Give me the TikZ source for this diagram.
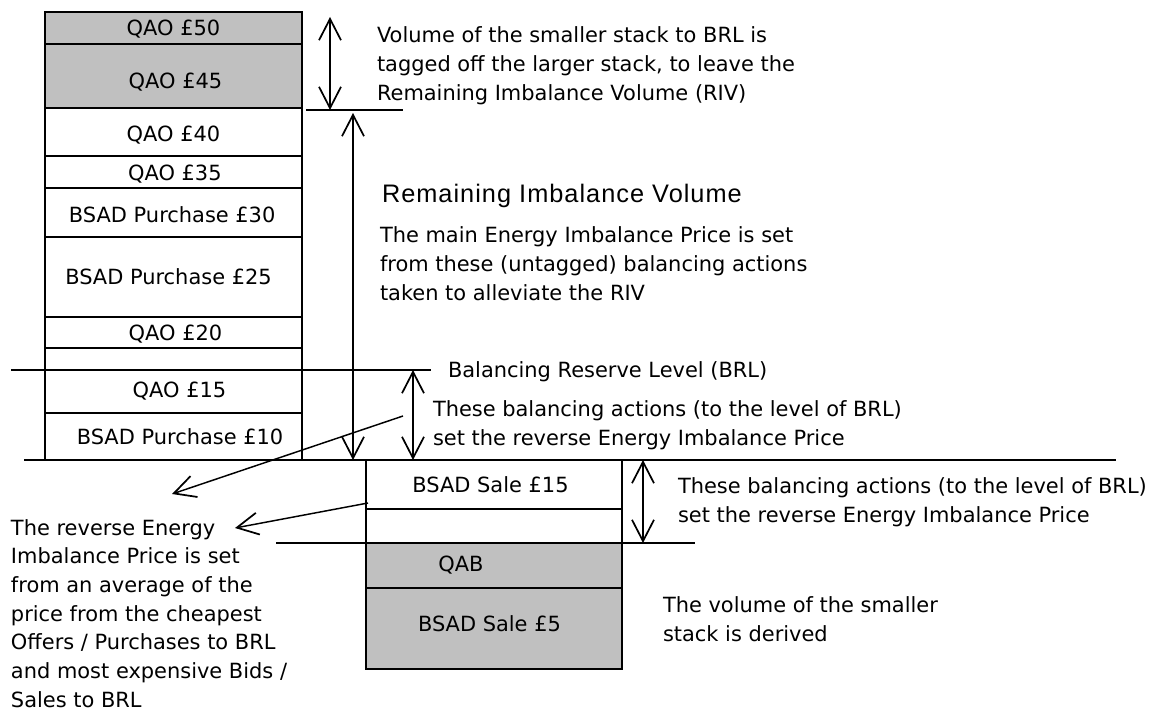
\documentclass[tikz,border=0pt]{standalone}
\usepackage{fontspec}
\setmainfont{DejaVu Sans}
\newfontfamily\titlefont[LetterSpace=4]{Liberation Sans}
\usetikzlibrary{arrows.meta,fit}
\definecolor{shade}{HTML}{C0C0C0}
\begin{document}
\begin{tikzpicture}[x=0.75pt,y=-0.75pt,
  every node/.style={font=\fontsize{15.7}{21.5}\selectfont, inner sep=0pt, outer sep=0pt},
  box/.style={draw, line width=1.4pt, inner sep=0pt},
  greybox/.style={box, fill=shade},
  hline/.style={line width=1.4pt},
  vtip/.tip={Straight Barb[length=16pt,width=16.5pt,line width=1.3pt]},
  dblarrow/.style={line width=1.3pt, arrows={vtip-vtip}},
  diag/.style={line width=1.1pt, arrows={-vtip}},
  txt/.style={anchor=base west, align=left},
  lab/.style={font=\fontsize{15.7}{21.5}\selectfont}]
\useasboundingbox (0,0) rectangle (1152,710);

% left stack
\node[greybox, fit={(45,12)(302,44)}, label={[lab,yshift=-1pt]center:QAO £50}] (q50) {};
\node[greybox, fit={(45,44)(302,108)}, label={[lab,yshift=-4.5pt,xshift=1.5pt]center:QAO £45}] (q45) {};
\node[box, fit={(45,108)(302,156)}, label={[lab,yshift=-2pt]center:QAO £40}] (q40) {};
\node[box, fit={(45,156)(302,188)}, label={[lab,yshift=-1.5pt,xshift=1pt]center:QAO £35}] (q35) {};
\node[box, fit={(45,188)(302,237)}, label={[lab,yshift=-1.5pt,xshift=-1pt]center:BSAD Purchase £30}] (p30) {};
\node[box, fit={(45,237)(302,317)}, label={[lab,xshift=-3.75pt]center:BSAD Purchase £25}] (p25) {};
\node[box, fit={(45,317)(302,348)}, label={[lab,yshift=-1.5pt,xshift=1.5pt]center:QAO £20}] (q20) {};
\node[box, fit={(45,348)(302,370)}] (e1) {};
\node[box, fit={(45,370)(302,413)}, label={[lab,xshift=4.5pt]center:QAO £15}] (q15) {};
\node[box, fit={(45,413)(302,460)}, label={[lab,xshift=4.9pt]center:BSAD Purchase £10}] (p10) {};

% right stack
\node[box, fit={(366,460)(622,509)}, label={[lab,xshift=-2.6pt]center:BSAD Sale £15}] (s15) {};
\node[box, fit={(366,509)(622,543)}] (e2) {};
\node[greybox, fit={(366,543)(622,588)}, label={[lab,xshift=-24.75pt]center:QAB}] (qab) {};
\node[greybox, fit={(366,588)(622,669)}, label={[lab,xshift=-3.4pt,yshift=3.4pt]center:BSAD Sale £5}] (s5) {};

% level lines
\coordinate (brlL) at (11,370);   \coordinate (brlR) at (431,370);
\coordinate (botL) at (24,460);   \coordinate (botR) at (1116,460);
\coordinate (topL) at (306,110);  \coordinate (topR) at (403,110);
\coordinate (lowL) at (276,543);  \coordinate (lowR) at (695,543);
\draw[hline] (brlL) -- (brlR);
\draw[hline] (botL) -- (botR);
\draw[hline] (topL) -- (topR);
\draw[hline] (lowL) -- (lowR);

% vertical double arrows
\coordinate (a1t) at (330,17);  \coordinate (a1b) at (330,110);
\coordinate (a2t) at (353,113); \coordinate (a2b) at (353,460);
\coordinate (a3t) at (413,370); \coordinate (a3b) at (413,460);
\coordinate (a4t) at (643,460); \coordinate (a4b) at (643,543);
\draw[dblarrow] (a1t) -- (a1b);
\draw[dblarrow] (a2t) -- (a2b);
\draw[dblarrow] (a3t) -- (a3b);
\draw[dblarrow] (a4t) -- (a4b);

% texts (anchored at the baseline of their last line)
\node[txt, font=\fontsize{15.7}{21.75}\selectfont] (tag) at (377,100) {Volume of the smaller stack to BRL is\\tagged off the larger stack, to leave the\\Remaining Imbalance Volume (RIV)};
\node[txt, font=\titlefont\fontsize{19}{22}\selectfont] (title) at (382,202) {Remaining Imbalance Volume};
\node[txt] (main) at (380,300) {The main Energy Imbalance Price is set\\from these (untagged) balancing actions\\taken to alleviate the RIV};
\node[txt] (brl) at (448,377) {Balancing Reserve Level (BRL)};
\node[txt] (up) at (433,445) {These balancing actions (to the level of BRL)\\set the reverse Energy Imbalance Price};
\node[txt] (down) at (678,522) {These balancing actions (to the level of BRL)\\set the reverse Energy Imbalance Price};
\node[txt] (derived) at (663,641) {The volume of the smaller\\stack is derived};
\node[txt] (rev) at (11,707) {The reverse Energy\\Imbalance Price is set\\from an average of the\\price from the cheapest\\Offers / Purchases to BRL\\and most expensive Bids /\\Sales to BRL};

% diagonal pointers
\coordinate (d1s) at (403,416); \coordinate (d1e) at (172,494);
\coordinate (d2s) at (368,503); \coordinate (d2e) at (235,528);
\draw[diag] (d1s) -- (d1e);
\draw[diag] (d2s) -- (d2e);
\end{tikzpicture}
\end{document}
